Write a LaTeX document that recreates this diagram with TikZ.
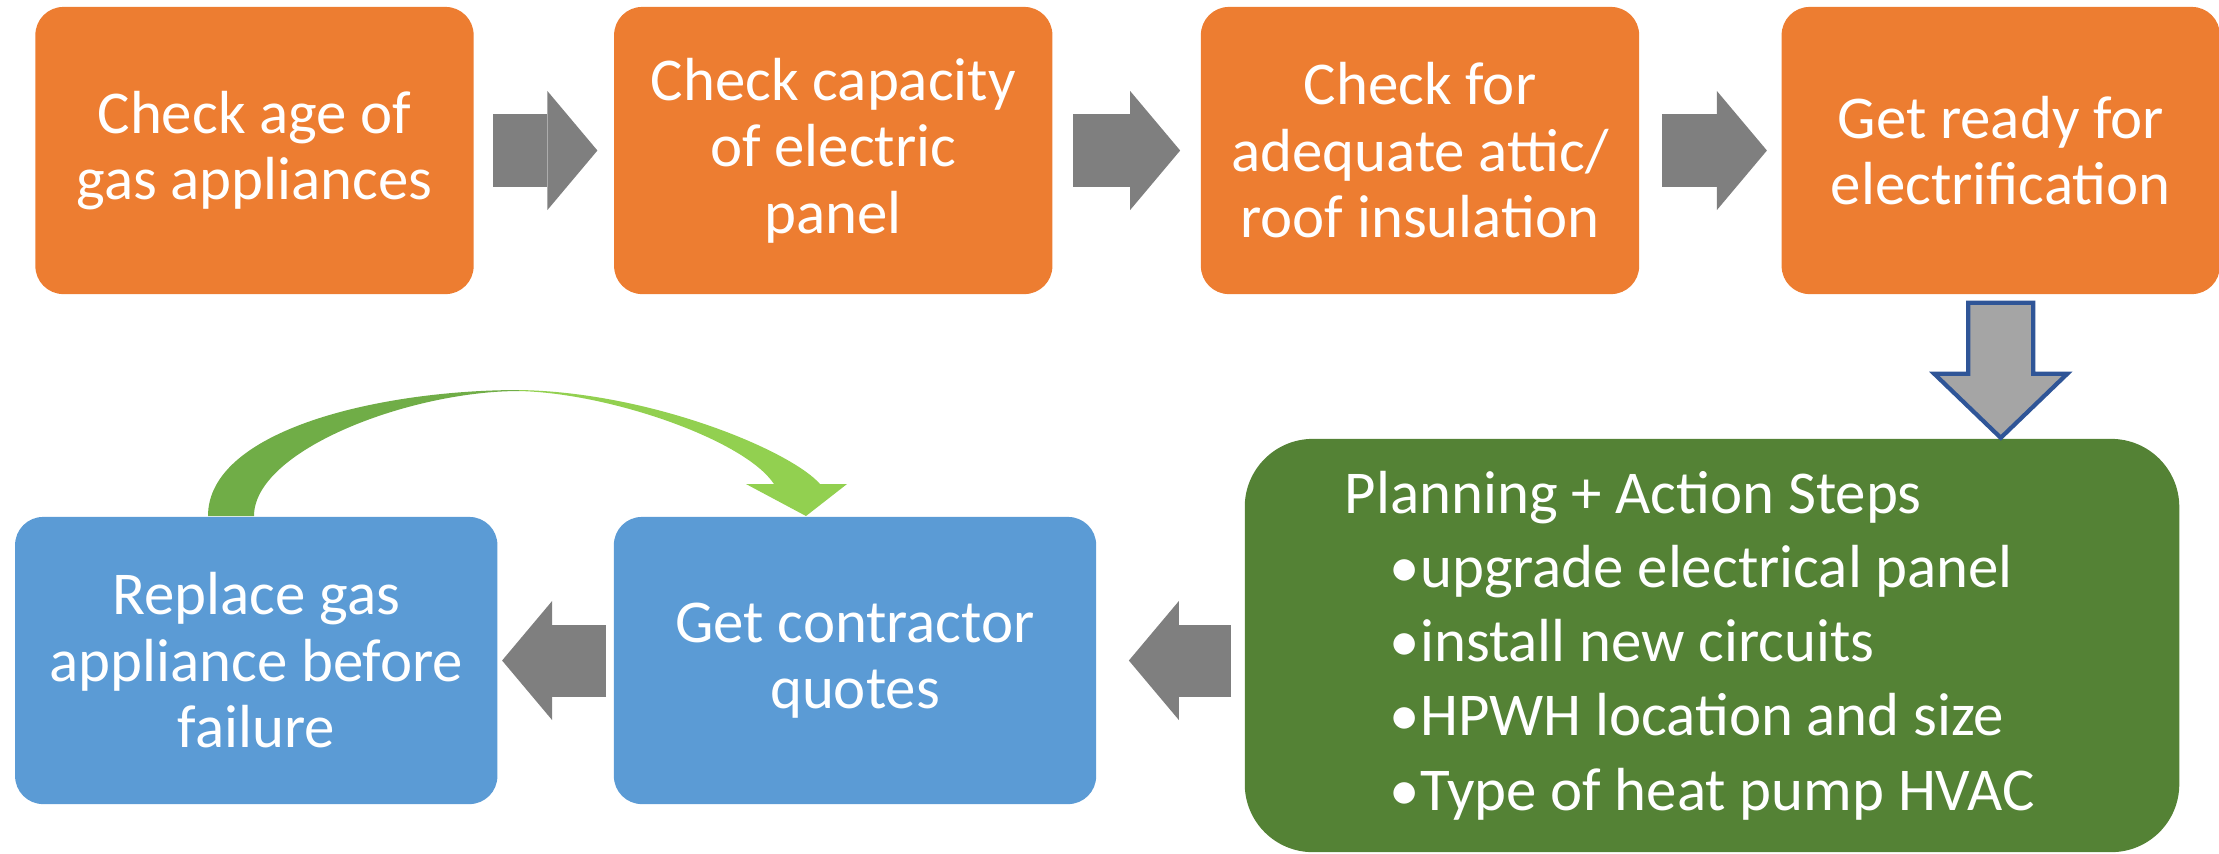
\documentclass[tikz,border=0pt]{standalone}
\usepackage{fontspec}
\setmainfont{Carlito}
\usepackage{xcolor}
\usetikzlibrary{positioning}
\usetikzlibrary{arrows.meta}
\definecolor{boxorange}{HTML}{ED7D31}
\definecolor{boxblue}{HTML}{5B9BD5}
\definecolor{boxgreen}{HTML}{548235}
\definecolor{arrowgray}{HTML}{7F7F7F}
\definecolor{downgray}{HTML}{A5A5A5}
\definecolor{downblue}{HTML}{2F5597}
\definecolor{curvedark}{HTML}{70AD47}
\definecolor{curvelight}{HTML}{92D050}

\begin{document}
\begin{tikzpicture}
          [x=0.01cm, y=-0.01cm,
           every node/.style={text=white, inner sep=0pt, align=center,
                              font={\fontsize{17.3}{18.9}\selectfont}},
           orangebox/.style={fill=boxorange, rounded corners=0.28cm,
                             minimum width=4.38cm, minimum height=2.87cm},
           bluebox/.style={fill=boxblue, rounded corners=0.28cm,
                           minimum width=4.82cm, minimum height=2.87cm},
           greenbox/.style={fill=boxgreen, rounded corners=0.68cm,
                            minimum height=4.13cm, text width=7.34cm, inner xsep=1cm,
                            align=flush left, font={\fontsize{17.3}{21.1}\selectfont}},
           grayarrow/.style={arrowgray, line width=0.72cm,
                             -{Triangle[length=0.5cm, width=1.19cm, line width=0pt]}},
           downarrow/.style={fill=downgray, draw=downblue, line width=1.2pt}]
          \useasboundingbox (0,0) rectangle (2219,853);

          \node (age) [orangebox] at (254.5,150.5) {Check age of\\gas appliances};
          \node (panel) [orangebox, right=1.39cm of age] {Check capacity\\of electric\\panel};
          \node (attic) [orangebox, right=1.47cm of panel] {Check for\\adequate attic/\\roof insulation};
          \node (ready) [orangebox, right=1.41cm of attic] {Get ready for\\electrification};

          \node (plan) [greenbox] at (1712,645.5) {Planning + Action Steps\\
            \hspace*{0.45cm}•upgrade electrical panel\\
            \hspace*{0.45cm}•install new circuits\\
            \hspace*{0.45cm}•HPWH location and size\\
            \hspace*{0.45cm}•Type of heat pump HVAC};

          \node (quotes) [bluebox] at (855,660.5) {Get contractor\\quotes};
          \node (replace) [bluebox, left=1.15cm of quotes] {Replace gas\\appliance before\\failure};

          \draw[grayarrow, shorten <=0.19cm, shorten >=0.16cm] (age) -- (panel);
          \draw[grayarrow, shorten <=0.2cm, shorten >=0.2cm] (panel) -- (attic);
          \draw[grayarrow, shorten <=0.22cm, shorten >=0.14cm] (attic) -- (ready);
          \draw[grayarrow, shorten <=0.13cm, shorten >=0.32cm] (plan.west |- quotes) -- (quotes);
          \draw[grayarrow, shorten <=0.07cm, shorten >=0.04cm] (quotes) -- (replace);

          \draw[downarrow] ([shift={(-32.5,8)}]ready.south) -- ++(0,71) -- ++(-34,0)
            -- ++(66.5,64) -- ++(66.5,-64) -- ++(-34,0) -- ++(0,-71) -- cycle;

          % loop back from replace to quotes
          \fill[curvedark] (208,516) .. controls (208,430) and (380,390) .. (519,390)
            -- (519,391) .. controls (410,391) and (254,450) .. (254,516) -- cycle;
          \fill[curvelight] (519,390) .. controls (650,392) and (790,450) .. (820,484)
            -- (847,484) -- (806,516) -- (746,484) -- (774,484)
            .. controls (745,440) and (610,393) .. (519,391) -- cycle;

        \end{tikzpicture}
\end{document}
